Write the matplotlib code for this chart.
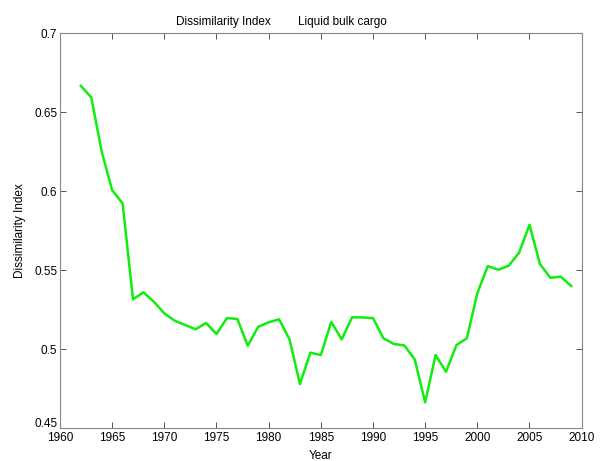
import matplotlib
matplotlib.use("Agg")
import matplotlib.pyplot as plt
import matplotlib.transforms as mtransforms

years = list(range(1962, 2010))
values = [0.6666, 0.6593, 0.625, 0.6006, 0.5922, 0.5315, 0.5359, 0.5299, 0.5226, 0.5179,
          0.5152, 0.5125, 0.5165, 0.5095, 0.5196, 0.5190, 0.5021, 0.5141, 0.5169, 0.5188,
          0.5061, 0.4778, 0.4977, 0.4962, 0.5171, 0.5061, 0.5201, 0.5200, 0.5196, 0.5068,
          0.5032, 0.5023, 0.4935, 0.4662, 0.4962, 0.4856, 0.5025, 0.5068, 0.5353, 0.5525,
          0.5502, 0.5527, 0.5609, 0.5787, 0.5538, 0.5451, 0.5458, 0.5399]
xticks = [1960, 1965, 1970, 1975, 1980, 1985, 1990, 1995, 2000, 2005, 2010]
yticks = [0.45, 0.5, 0.55, 0.6, 0.65, 0.7]
ytick_labels = ["0.45", "0.5", "0.55", "0.6", "0.65", "0.7"]

plt.rcParams['font.family'] = ['Liberation Sans', 'DejaVu Sans']
fig = plt.figure(figsize=(6.01, 4.61), dpi=100)
ax = fig.add_axes([0.0998, 0.0716, 0.868, 0.8565])
ax.plot(years, values, color='#10ee10', linewidth=1.8, solid_joinstyle='round')
ax.set_xlim(1960, 2010)
ax.set_ylim(0.45, 0.7)
ax.set_xticks(xticks)
ax.set_yticks(yticks)
ax.set_yticklabels(ytick_labels)
ax.tick_params(direction='in', top=True, right=True, labelsize=8.5, length=4,
               color='#555555', width=0.7, pad=2)
ax.tick_params(axis='x', pad=3)
# nudge lowest y label upward a little, as in the reference
lbl = ax.get_yticklabels()[0]
lbl.set_transform(lbl.get_transform() + mtransforms.ScaledTranslation(0, 4/72, fig.dpi_scale_trans))
for s in ax.spines.values():
    s.set_color('#888888')
    s.set_linewidth(0.8)
ax.set_xlabel('Year', fontsize=8.5, labelpad=4)
ax.set_ylabel('Dissimilarity Index', fontsize=8.5, labelpad=6)
fig.text(0.372, 0.953, 'Dissimilarity Index', fontsize=8.5, ha='center', va='center')
fig.text(0.570, 0.953, 'Liquid bulk cargo', fontsize=8.5, ha='center', va='center')
fig.savefig('out.png', dpi=100)
